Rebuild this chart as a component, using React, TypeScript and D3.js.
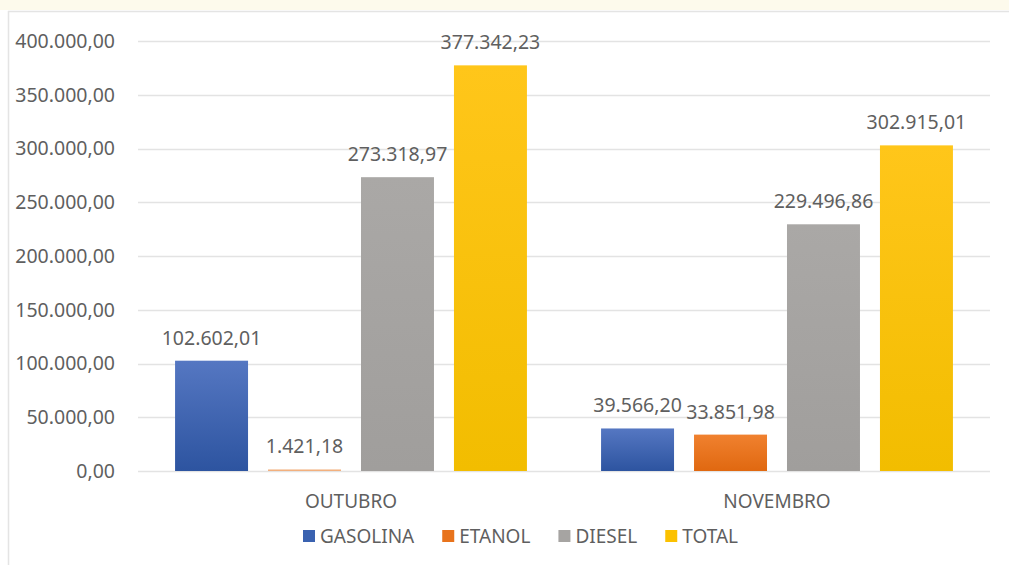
import React, { useEffect, useRef } from "react";
import * as d3 from "d3";

const categories = ["OUTUBRO", "NOVEMBRO"];
const seriesNames = ["GASOLINA", "ETANOL", "DIESEL", "TOTAL"];
const gasolina = [102602.01, 39566.2];
const etanol = [1421.18, 33851.98];
const diesel = [273318.97, 229496.86];
const total = [377342.23, 302915.01];
const yTicks = [0, 50000, 100000, 150000, 200000, 250000, 300000, 350000, 400000];

const W = 1009;
const H = 565;
const FONT = "'Noto Sans', sans-serif";
const TEXT = "#5f5f5f";

export default function App() {
  const ref = useRef<SVGSVGElement | null>(null);

  useEffect(() => {
    const svg = d3.select(ref.current);
    svg.selectAll("*").remove();

    const locale = d3.formatLocale({ decimal: ",", thousands: ".", grouping: [3], currency: ["R$", ""] });
    const fmt = locale.format(",.2f");

    const values = [gasolina, etanol, diesel, total];
    const gradients = [
      ["#5577c2", "#2d54a0"],
      ["#f0812f", "#e06810"],
      ["#aaa8a6", "#a09e9c"],
      ["#ffc61a", "#f2bd00"],
    ];
    const legendColors = ["#3a62b0", "#e8731c", "#a6a4a2", "#fbc100"];

    const defs = svg.append("defs");
    gradients.forEach((g, i) => {
      const lg = defs.append("linearGradient").attr("id", `grad${i}`).attr("x1", 0).attr("y1", 0).attr("x2", 0).attr("y2", 1);
      lg.append("stop").attr("offset", "0%").attr("stop-color", g[0]);
      lg.append("stop").attr("offset", "100%").attr("stop-color", g[1]);
    });

    // background
    svg.append("rect").attr("x", 0).attr("y", 0).attr("width", W).attr("height", H).attr("fill", "#ffffff");
    svg.append("rect").attr("x", 0).attr("y", 0).attr("width", W).attr("height", 10).attr("fill", "#fdfaec");
    svg.append("line").attr("x1", 8).attr("x2", W).attr("y1", 11.5).attr("y2", 11.5).attr("stroke", "#e4e4e4").attr("stroke-width", 1.5);
    svg.append("line").attr("x1", 8.5).attr("x2", 8.5).attr("y1", 11).attr("y2", H).attr("stroke", "#e4e4e4").attr("stroke-width", 1.5);

    const left = 138;
    const right = 990;
    const top = 41;
    const bottom = 471;

    const y = d3.scaleLinear().domain([0, 400000]).range([bottom, top]);
    const x0 = d3.scaleBand<string>().domain(categories).range([left, right]).paddingInner(0).paddingOuter(0);
    const bw = x0.bandwidth();
    const gapHalf = bw * 0.087;
    const x1 = d3
      .scaleBand<string>()
      .domain(seriesNames)
      .range([gapHalf, bw - gapHalf])
      .paddingInner(0.215)
      .paddingOuter(0);

    // gridlines
    svg
      .append("g")
      .selectAll("line")
      .data(yTicks)
      .join("line")
      .attr("x1", left)
      .attr("x2", right)
      .attr("y1", (d) => Math.round(y(d)) + 0.5)
      .attr("y2", (d) => Math.round(y(d)) + 0.5)
      .attr("stroke", "#e3e3e3")
      .attr("stroke-width", 1.5);

    // y labels
    svg
      .append("g")
      .selectAll("text")
      .data(yTicks)
      .join("text")
      .attr("x", 115)
      .attr("y", (d) => y(d))
      .attr("dy", "0.35em")
      .attr("text-anchor", "end")
      .attr("font-family", FONT)
      .attr("font-size", 19.5)
      .attr("fill", TEXT)
      .text((d) => fmt(d));

    // bars
    categories.forEach((cat, ci) => {
      seriesNames.forEach((s, si) => {
        const v = values[si][ci];
        const bx = (x0(cat) as number) + (x1(s) as number);
        const by = y(v);
        svg
          .append("rect")
          .attr("x", bx)
          .attr("y", by)
          .attr("width", x1.bandwidth())
          .attr("height", Math.max(bottom - by, 1.5))
          .attr("fill", si === 1 && ci === 0 ? "#f2b07e" : `url(#grad${si})`);
        svg
          .append("text")
          .attr("x", bx + x1.bandwidth() / 2)
          .attr("y", Math.min(by, bottom - 1.5) - 16)
          .attr("text-anchor", "middle")
          .attr("font-family", FONT)
          .attr("font-size", 19.5)
          .attr("fill", TEXT)
          .text(fmt(v));
      });
    });

    // category labels
    svg
      .append("g")
      .selectAll("text")
      .data(categories)
      .join("text")
      .attr("x", (d) => (x0(d) as number) + bw / 2)
      .attr("y", 508)
      .attr("text-anchor", "middle")
      .attr("font-family", FONT)
      .attr("font-size", 19)
      .attr("fill", TEXT)
      .text((d) => d);

    // legend
    const lg = svg.append("g");
    let cx = 303;
    seriesNames.forEach((s, i) => {
      lg.append("rect").attr("x", cx).attr("y", 530).attr("width", 12).attr("height", 12).attr("fill", legendColors[i]);
      const t = lg
        .append("text")
        .attr("x", cx + 17)
        .attr("y", 543)
        .attr("font-family", FONT)
        .attr("font-size", 19)
        .attr("fill", TEXT)
        .text(s);
      const tw = (t.node() as SVGTextElement).getComputedTextLength();
      cx = cx + 17 + tw + 28;
    });
  }, []);

  return (
    <svg
      ref={ref}
      width={W}
      height={H}
      style={{ position: "absolute", left: 0, top: 0, display: "block" }}
    />
  );
}
